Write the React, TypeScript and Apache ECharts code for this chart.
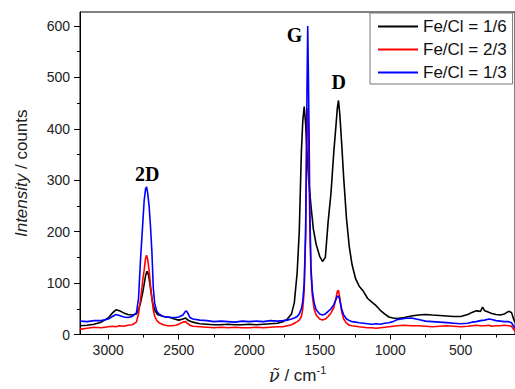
import React, { useEffect, useRef } from "react";
import * as echarts from "echarts";

const seriesNames = ["Fe/Cl = 1/6", "Fe/Cl = 2/3", "Fe/Cl = 1/3"];
const seriesColors = ["#000000", "#ff0000", "#0000ff"];

// wavenumber (cm-1), intensity (counts)
const blackSpectrum: [number, number][] = [
  [3200, 17], [3150, 18], [3100, 20], [3050, 24], [3000, 32], [2970, 42], [2945, 48], [2920, 46],
  [2890, 42], [2860, 39], [2830, 38], [2800, 40], [2785, 48], [2770, 62], [2755, 82], [2745, 98],
  [2735, 114], [2725, 123], [2715, 117], [2705, 100], [2695, 80], [2685, 62], [2670, 47], [2650, 39],
  [2620, 36], [2590, 34], [2560, 33], [2530, 30], [2500, 28], [2470, 30], [2450, 32], [2430, 27],
  [2400, 24], [2350, 21], [2300, 20], [2250, 19], [2200, 19], [2150, 20], [2100, 19], [2050, 19],
  [2000, 20], [1950, 19], [1900, 20], [1850, 21], [1800, 22], [1760, 25], [1730, 30], [1700, 40],
  [1680, 62], [1660, 120], [1645, 200], [1630, 355], [1620, 415], [1610, 443], [1600, 410],
  [1592, 365], [1585, 330], [1578, 300], [1570, 275], [1560, 245], [1545, 205], [1525, 175],
  [1500, 152], [1480, 142], [1460, 150], [1440, 220], [1420, 275], [1400, 355], [1385, 405],
  [1375, 440], [1367, 455], [1358, 430], [1345, 375], [1330, 305], [1310, 225], [1290, 170],
  [1270, 135], [1245, 108], [1220, 94], [1190, 84], [1160, 70], [1130, 63], [1100, 56], [1070, 47],
  [1040, 40], [1010, 34], [980, 32], [950, 31], [900, 33], [850, 36], [800, 38], [750, 39],
  [700, 38], [650, 37], [600, 36], [550, 35], [500, 35], [450, 39], [420, 43], [390, 46],
  [360, 45], [345, 53], [330, 46], [310, 44], [280, 41], [250, 39], [220, 38], [190, 40],
  [160, 45], [140, 43], [125, 30], [115, 24],
];

const redSpectrum: [number, number][] = [
  [3200, 10], [3150, 12], [3100, 14], [3050, 13], [3000, 15], [2970, 16], [2945, 15], [2920, 17],
  [2890, 16], [2860, 18], [2830, 19], [2800, 24], [2785, 40], [2770, 70], [2755, 105], [2745, 125],
  [2735, 148], [2728, 154], [2720, 146], [2710, 125], [2700, 95], [2690, 70], [2680, 48], [2670, 35],
  [2655, 27], [2640, 23], [2610, 19], [2580, 17], [2550, 17], [2520, 18], [2500, 20], [2470, 24],
  [2450, 25], [2440, 22], [2420, 18], [2400, 16], [2350, 15], [2300, 14], [2250, 13], [2200, 14],
  [2150, 13], [2100, 14], [2050, 13], [2000, 13], [1950, 14], [1900, 13], [1850, 14], [1800, 15],
  [1760, 15], [1730, 17], [1700, 19], [1680, 22], [1660, 25], [1645, 28], [1630, 35], [1620, 50],
  [1610, 85], [1600, 190], [1595, 300], [1590, 420], [1585, 440], [1580, 400], [1575, 300],
  [1570, 210], [1562, 120], [1552, 75], [1540, 50], [1525, 38], [1500, 30], [1480, 28], [1460, 30],
  [1440, 35], [1420, 42], [1400, 52], [1385, 70], [1375, 84], [1367, 86], [1358, 72], [1345, 45],
  [1330, 30], [1310, 22], [1290, 18], [1270, 17], [1245, 16], [1220, 15], [1190, 14], [1160, 13],
  [1130, 13], [1100, 12], [1070, 13], [1040, 14], [1010, 15], [980, 16], [950, 17], [900, 18],
  [850, 17], [800, 17], [750, 16], [700, 15], [650, 16], [600, 17], [550, 16], [500, 15],
  [450, 16], [420, 17], [390, 18], [360, 17], [330, 17], [300, 18], [280, 16], [250, 17],
  [220, 17], [190, 18], [160, 17], [140, 16], [125, 10], [115, 6],
];

const blueSpectrum: [number, number][] = [
  [3200, 26], [3150, 25], [3100, 27], [3050, 27], [3000, 30], [2970, 35], [2945, 39], [2920, 37],
  [2890, 34], [2860, 33], [2830, 35], [2800, 42], [2785, 70], [2770, 150], [2755, 215], [2745, 260],
  [2735, 283], [2728, 287], [2720, 275], [2710, 250], [2700, 210], [2690, 160], [2680, 90],
  [2670, 60], [2655, 45], [2640, 40], [2610, 35], [2580, 34], [2550, 33], [2520, 33], [2500, 34],
  [2470, 38], [2450, 46], [2440, 44], [2420, 33], [2400, 30], [2350, 28], [2300, 27], [2250, 25],
  [2200, 26], [2150, 25], [2100, 24], [2050, 26], [2000, 25], [1950, 26], [1900, 25], [1850, 27],
  [1800, 26], [1760, 27], [1730, 28], [1700, 30], [1680, 32], [1660, 35], [1645, 40], [1630, 50],
  [1620, 65], [1610, 100], [1600, 200], [1595, 330], [1590, 480], [1585, 600], [1580, 500],
  [1575, 380], [1570, 240], [1562, 130], [1552, 85], [1540, 62], [1525, 48], [1500, 40], [1480, 38],
  [1460, 40], [1440, 45], [1420, 50], [1400, 58], [1385, 68], [1375, 74], [1367, 75], [1358, 68],
  [1345, 50], [1330, 38], [1310, 30], [1290, 27], [1270, 25], [1245, 24], [1220, 23], [1190, 22],
  [1160, 21], [1130, 20], [1100, 21], [1070, 20], [1040, 22], [1010, 23], [980, 25], [950, 29],
  [900, 31], [850, 32], [800, 29], [750, 26], [700, 25], [650, 24], [600, 23], [550, 22],
  [500, 21], [450, 22], [420, 24], [390, 25], [360, 27], [330, 28], [300, 30], [280, 29],
  [250, 27], [220, 26], [190, 25], [160, 25], [140, 23], [125, 16], [115, 12],
];

const xMajorTicks = [3000, 2500, 2000, 1500, 1000, 500];
const xMinorTicks = [2750, 2250, 1750, 1250, 750, 250];
const yMajorTicks = [0, 100, 200, 300, 400, 500, 600];
const yMinorTicks = [50, 150, 250, 350, 450, 550];

const peakLabels: { name: string; coord: [number, number] }[] = [
  { name: "2D", coord: [2724, 313] },
  { name: "G", coord: [1679, 583] },
  { name: "D", coord: [1366, 490] },
];

const X_MIN = 115;
const X_MAX = 3200;
const Y_MIN = 0;
const Y_MAX = 627;

export default function App() {
  const ref = useRef<HTMLDivElement>(null);

  useEffect(() => {
    if (!ref.current) return;
    const chart = echarts.init(ref.current, undefined, { renderer: "svg" });
    const labelColor = "#222";
    const sans = "Liberation Sans, Arial, sans-serif";
    const serif = "Liberation Serif, Times New Roman, serif";

    const spectra = [blackSpectrum, redSpectrum, blueSpectrum];

    chart.setOption({
      animation: false,
      backgroundColor: "#ffffff",
      grid: {
        left: 80,
        right: 0,
        top: 12,
        bottom: 52,
        show: true,
        borderColor: "#000",
        borderWidth: 1,
      },
      legend: {
        left: 370,
        top: 13,
        orient: "vertical",
        data: seriesNames,
        icon: "rect",
        itemWidth: 40,
        itemHeight: 2,
        itemGap: 6,
        padding: [5, 6, 3, 8],
        backgroundColor: "#fff",
        borderColor: "#777",
        borderWidth: 1,
        textStyle: { fontFamily: sans, fontSize: 17, color: "#111" },
      },
      xAxis: [
        {
          type: "value",
          min: X_MIN,
          max: X_MAX,
          inverse: true,
          position: "bottom",
          name: "{nu|\u03BD\u0303} / cm{sup|-1}",
          nameLocation: "middle",
          nameGap: 30,
          nameTextStyle: {
            fontFamily: sans,
            fontSize: 17,
            color: labelColor,
            rich: {
              nu: { fontFamily: "DejaVu Serif", fontStyle: "italic", fontSize: 18, color: labelColor },
              sup: { fontFamily: sans, fontSize: 11, color: labelColor, padding: [0, 0, 10, 0] },
            },
          },
          axisLine: { show: true, lineStyle: { color: "#000", width: 1 } },
          axisTick: { show: true, length: 5, inside: false, customValues: xMajorTicks, lineStyle: { color: "#000" } },
          axisLabel: {
            show: true,
            customValues: xMajorTicks,
            formatter: (v: number) => String(v),
            fontFamily: sans,
            fontSize: 14,
            color: labelColor,
            margin: 8,
          },
          splitLine: { show: false },
        },
        {
          type: "value",
          min: X_MIN,
          max: X_MAX,
          inverse: true,
          position: "bottom",
          axisLine: { show: false },
          axisTick: { show: true, length: 3, inside: false, customValues: xMinorTicks, lineStyle: { color: "#000" } },
          axisLabel: { show: false },
          splitLine: { show: false },
        },
      ],
      yAxis: [
        {
          type: "value",
          min: Y_MIN,
          max: Y_MAX,
          position: "left",
          name: "{i|Intensity} / counts",
          nameLocation: "middle",
          nameGap: 50,
          nameTextStyle: {
            fontFamily: sans,
            fontSize: 17,
            color: labelColor,
            rich: { i: { fontFamily: sans, fontStyle: "italic", fontSize: 17, color: labelColor } },
          },
          axisLine: { show: true, lineStyle: { color: "#000", width: 1 } },
          axisTick: { show: true, length: 6, inside: false, customValues: yMajorTicks, lineStyle: { color: "#000" } },
          axisLabel: {
            show: true,
            customValues: yMajorTicks,
            formatter: (v: number) => String(v),
            fontFamily: sans,
            fontSize: 14,
            color: labelColor,
            margin: 10,
          },
          splitLine: { show: false },
        },
        {
          type: "value",
          min: Y_MIN,
          max: Y_MAX,
          position: "left",
          axisLine: { show: false },
          axisTick: { show: true, length: 3, inside: false, customValues: yMinorTicks, lineStyle: { color: "#000" } },
          axisLabel: { show: false },
          splitLine: { show: false },
        },
      ],
      series: seriesNames.map((name, i) => ({
        name,
        type: "line",
        xAxisIndex: 0,
        yAxisIndex: 0,
        data: spectra[i],
        showSymbol: false,
        symbol: "none",
        lineStyle: { color: seriesColors[i], width: 1.6 },
        itemStyle: { color: seriesColors[i] },
        z: 2 + i,
        markPoint:
          i === 0
            ? {
                symbol: "circle",
                symbolSize: 0,
                silent: true,
                label: {
                  show: true,
                  position: "inside",
                  formatter: "{b}",
                  fontFamily: serif,
                  fontWeight: "bold",
                  fontSize: 20,
                  color: "#000",
                },
                data: peakLabels.map((p) => ({ name: p.name, coord: p.coord })),
              }
            : undefined,
      })),
    });

    return () => chart.dispose();
  }, []);

  return (
    <div
      ref={ref}
      style={{ position: "fixed", left: 0, top: 0, width: 515, height: 389 }}
    />
  );
}
